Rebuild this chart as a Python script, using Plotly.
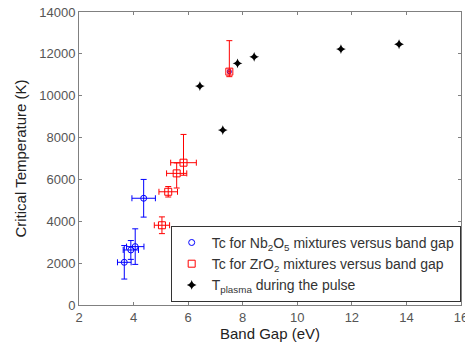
import plotly.graph_objects as go

# Nb2O5 data
nb_x = [3.66, 3.90, 4.06, 4.37]
nb_y = [2040, 2630, 2790, 5100]
nb_xerr = [0.25, 0.28, 0.32, 0.43]
nb_yerr = [800, 450, 850, 900]
nb_extra_x = [7.51]
nb_extra_y = [11150]

# ZrO2 data
zr_x = [5.04, 5.27, 5.58, 5.83, 7.51]
zr_y = [3810, 5410, 6290, 6800, 11150]
zr_xerr = [0.28, 0.34, 0.37, 0.47, 0.05]
zr_yerr_plus = [400, 250, 500, 1350, 1480]
zr_yerr_minus = [400, 250, 700, 600, 240]

# T plasma
tp_x = [6.43, 7.27, 7.81, 8.42, 11.60, 13.73]
tp_y = [10460, 8360, 11550, 11860, 12230, 12460]

x_ticks = [2, 4, 6, 8, 10, 12, 14, 16]
y_ticks = [0, 2000, 4000, 6000, 8000, 10000, 12000, 14000]
y_ticklabels = ["0", "2000", "4000", "6000", "8000", "10000", "12000", "14000"]

blue = "#0000ff"
red = "#ff0000"
font_fam = "Liberation Sans, Arial"

fig = go.Figure()
fig.add_trace(go.Scatter(
    x=nb_x, y=nb_y, mode="markers",
    name="Tc for Nb<sub>2</sub>O<sub>5</sub> mixtures versus band gap",
    marker=dict(symbol="circle-open", size=6, color=blue, line=dict(width=1, color=blue)),
    error_x=dict(type="data", array=nb_xerr, color=blue, thickness=1, width=3),
    error_y=dict(type="data", array=nb_yerr, color=blue, thickness=1, width=3),
))
fig.add_trace(go.Scatter(
    x=nb_extra_x, y=nb_extra_y, mode="markers", showlegend=False,
    marker=dict(symbol="circle-open", size=4, color=blue, line=dict(width=1, color=blue)),
))
fig.add_trace(go.Scatter(
    x=zr_x, y=zr_y, mode="markers",
    name="Tc for ZrO<sub>2</sub> mixtures versus band gap",
    marker=dict(symbol="square-open", size=7, color=red, line=dict(width=1, color=red)),
    error_x=dict(type="data", array=zr_xerr, color=red, thickness=1, width=3),
    error_y=dict(type="data", symmetric=False, array=zr_yerr_plus, arrayminus=zr_yerr_minus,
                 color=red, thickness=1, width=3),
))
fig.add_trace(go.Scatter(
    x=tp_x, y=tp_y, mode="markers",
    name="T<sub>plasma</sub> during the pulse",
    marker=dict(symbol="star-diamond", size=7, color="black"),
))

axis_common = dict(
    showgrid=False, zeroline=False, showline=True, linecolor="#808080", linewidth=1,
    mirror="ticks", ticks="inside", ticklen=3, tickcolor="#808080",
    tickfont=dict(family=font_fam, size=13, color="#555555"),
    automargin=False, ticklabeloverflow="allow",
)
fig.update_layout(
    width=465, height=343,
    margin=dict(l=79, r=4, t=12, b=38, autoexpand=False),
    paper_bgcolor="white", plot_bgcolor="white",
    xaxis=dict(range=[2, 16], tickvals=x_ticks,
               title=dict(text="Band Gap (eV)", font=dict(family=font_fam, size=15, color="#222222"), standoff=2),
               **axis_common),
    yaxis=dict(range=[0, 14000], tickvals=y_ticks, ticktext=y_ticklabels,
               title=dict(text="Critical Temperature (K)", font=dict(family=font_fam, size=15, color="#222222"), standoff=8),
               **axis_common),
    legend=dict(x=0.24, y=0.27, xanchor="left", yanchor="top",
                bgcolor="white", bordercolor="#333333", borderwidth=1,
                font=dict(family=font_fam, size=14, color="#333333"),
                itemwidth=30, tracegroupgap=0),
    showlegend=True,
)
fig.write_html("out.html", config={"displayModeBar": False},
               post_script="document.body.style.margin='0';document.body.style.overflow='hidden';")
